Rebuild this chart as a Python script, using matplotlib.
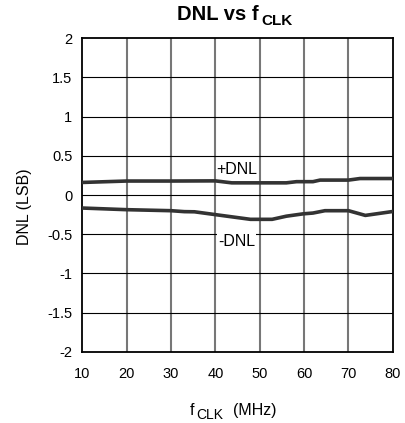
import matplotlib
matplotlib.use("Agg")
import matplotlib.pyplot as plt

plt.rcParams['font.family'] = ['Liberation Sans', 'DejaVu Sans']

# data
pos_f = [10, 20, 30, 40, 43.7, 50, 56, 58.3, 62, 63.6, 70, 72.6, 80]
pos_dnl = [0.16, 0.178, 0.178, 0.18, 0.155, 0.155, 0.155, 0.17, 0.17, 0.19, 0.19, 0.21, 0.21]
neg_f = [10, 20, 30, 33, 35.3, 40, 47.9, 52.8, 56, 59.8, 62, 64.7, 70, 73.8, 80]
neg_dnl = [-0.166, -0.187, -0.2, -0.212, -0.214, -0.25, -0.31, -0.31, -0.27,
           -0.24, -0.23, -0.2, -0.2, -0.26, -0.21]
xticks = [10, 20, 30, 40, 50, 60, 70, 80]
yticks = [-2, -1.5, -1, -0.5, 0, 0.5, 1, 1.5, 2]

W, H = 405, 423
fig = plt.figure(figsize=(W / 100, H / 100), dpi=100)
ax = fig.add_axes([0.203, 0.168, 0.767, 0.742])

for x in xticks[1:-1]:
    ax.axvline(x, color='#777777', lw=1.5, zorder=1)
for y in yticks[1:-1]:
    ax.axhline(y, color='black', lw=0.8, zorder=1)

ax.plot(pos_f, pos_dnl, color='#333333', lw=2.6, zorder=3)
ax.plot(neg_f, neg_dnl, color='#333333', lw=2.6, zorder=3)

box = dict(facecolor='white', edgecolor='none', pad=0.5)
ax.text(44.9, 0.33, '+DNL', fontsize=11.5, ha='center', va='center',
        bbox=box, zorder=4)
ax.text(44.8, -0.59, '-DNL', fontsize=11.5, ha='center', va='center',
        bbox=box, zorder=4)

ax.set_xlim(10, 80)
ax.set_ylim(-2, 2)
ax.set_xticks(xticks)
ax.set_xticklabels([str(v) for v in xticks])
ax.set_yticks(yticks)
ax.set_yticklabels([('%g' % v) for v in yticks])
ax.tick_params(length=0, labelsize=10.5)
ax.tick_params(axis='x', pad=11)
ax.tick_params(axis='y', pad=7)
for s in ax.spines.values():
    s.set_linewidth(1.3)
    s.set_color('black')

def px(x, y):
    return x / W, 1 - y / H

# y label
fig.text(*px(25, 207), 'DNL (LSB)', fontsize=11.5, rotation=90,
         ha='center', va='center')

# x label: f, subscript CLK, (MHz)
fig.text(*px(190, 415), 'f', fontsize=11.5, ha='left', va='baseline')
fig.text(*px(196, 419), 'CLK', fontsize=10, ha='left', va='baseline')
fig.text(*px(233, 415), '(MHz)', fontsize=11.5, ha='left', va='baseline')

# title
fig.text(*px(177, 20), 'DNL vs f', fontsize=14.5, fontweight='bold',
         ha='left', va='baseline')
fig.text(*px(261, 25), 'CLK', fontsize=11, fontweight='bold',
         ha='left', va='baseline')

fig.savefig('out.png', dpi=100)
